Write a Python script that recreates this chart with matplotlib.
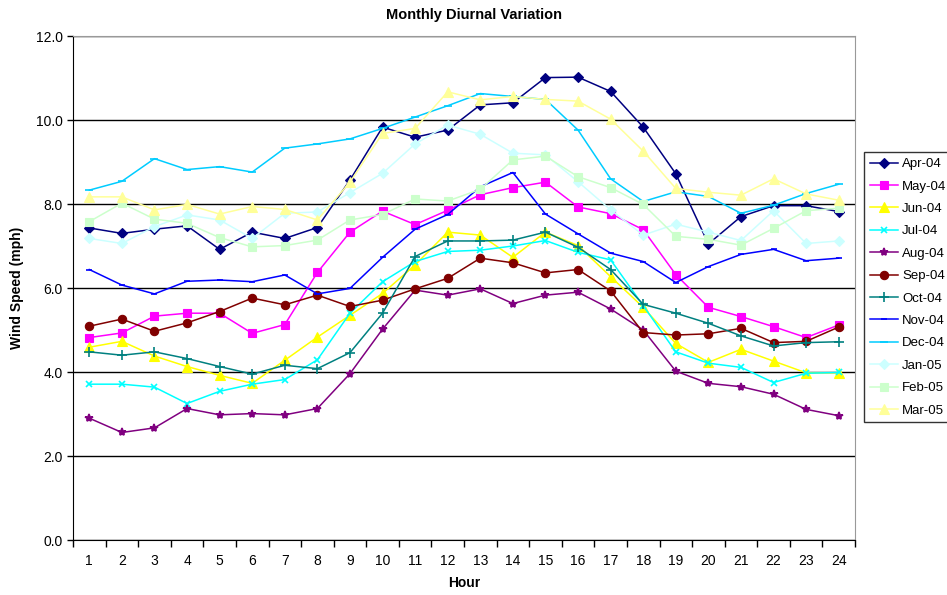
import numpy as np
import matplotlib
matplotlib.use("Agg")
import matplotlib.pyplot as plt

plt.rcParams["font.family"] = ["Liberation Sans", "DejaVu Sans"]

hours = list(range(1, 25))
months = ["Apr-04", "May-04", "Jun-04", "Jul-04", "Aug-04", "Sep-04",
          "Oct-04", "Nov-04", "Dec-04", "Jan-05", "Feb-05", "Mar-05"]

apr04 = [7.43, 7.30, 7.40, 7.48, 6.92, 7.33, 7.18, 7.44, 8.57, 9.83, 9.59, 9.76,
         10.36, 10.41, 11.01, 11.02, 10.68, 9.83, 8.72, 7.05, 7.70, 7.96, 7.96, 7.82]
may04 = [4.82, 4.93, 5.33, 5.40, 5.40, 4.92, 5.13, 6.37, 7.33, 7.83, 7.51, 7.85,
         8.22, 8.39, 8.52, 7.93, 7.77, 7.39, 6.32, 5.54, 5.32, 5.08, 4.82, 5.12]
jun04 = [4.59, 4.73, 4.38, 4.13, 3.92, 3.73, 4.28, 4.83, 5.35, 5.87, 6.55, 7.33,
         7.26, 6.73, 7.33, 7.01, 6.27, 5.54, 4.68, 4.23, 4.54, 4.26, 3.98, 3.98]
jul04 = [3.71, 3.71, 3.64, 3.25, 3.54, 3.71, 3.82, 4.29, 5.40, 6.15, 6.63, 6.87,
         6.90, 7.00, 7.13, 6.85, 6.67, 5.58, 4.48, 4.21, 4.11, 3.75, 3.97, 3.99]
aug04 = [2.90, 2.56, 2.67, 3.13, 2.98, 3.01, 2.98, 3.13, 3.96, 5.02, 5.95, 5.83,
         5.98, 5.63, 5.83, 5.90, 5.50, 5.00, 4.02, 3.73, 3.65, 3.47, 3.11, 2.96]
sep04 = [5.09, 5.26, 4.97, 5.17, 5.44, 5.76, 5.60, 5.83, 5.56, 5.71, 5.98, 6.23,
         6.71, 6.60, 6.36, 6.44, 5.93, 4.94, 4.88, 4.91, 5.04, 4.70, 4.73, 5.07]
oct04 = [4.48, 4.40, 4.48, 4.32, 4.13, 3.95, 4.16, 4.08, 4.46, 5.40, 6.75, 7.12,
         7.12, 7.14, 7.33, 6.97, 6.44, 5.61, 5.40, 5.16, 4.86, 4.62, 4.70, 4.72]
nov04 = [6.44, 6.07, 5.86, 6.16, 6.19, 6.15, 6.31, 5.86, 5.99, 6.73, 7.40, 7.75,
         8.41, 8.75, 7.76, 7.29, 6.83, 6.63, 6.13, 6.51, 6.80, 6.92, 6.65, 6.71]
dec04 = [8.33, 8.54, 9.08, 8.82, 8.89, 8.76, 9.33, 9.43, 9.55, 9.80, 10.07, 10.34,
         10.63, 10.56, 10.49, 9.76, 8.60, 8.06, 8.29, 8.18, 7.78, 7.97, 8.25, 8.47]
jan05 = [7.18, 7.06, 7.46, 7.74, 7.62, 7.18, 7.78, 7.81, 8.27, 8.73, 9.43, 9.88,
         9.66, 9.21, 9.17, 8.53, 7.86, 7.26, 7.52, 7.33, 7.13, 7.84, 7.06, 7.12]
feb05 = [7.58, 8.02, 7.64, 7.54, 7.20, 6.98, 7.01, 7.14, 7.62, 7.75, 8.12, 8.07,
         8.35, 9.05, 9.14, 8.65, 8.39, 7.99, 7.23, 7.16, 7.02, 7.42, 7.84, 7.90]
mar05 = [8.17, 8.17, 7.86, 7.99, 7.76, 7.94, 7.87, 7.62, 8.52, 9.68, 9.80, 10.67,
         10.48, 10.56, 10.49, 10.45, 10.02, 9.26, 8.37, 8.28, 8.21, 8.60, 8.24, 8.09]

series = [apr04, may04, jun04, jul04, aug04, sep04, oct04, nov04, dec04, jan05, feb05, mar05]
colors = ["#000080", "#FF00FF", "#FFFF00", "#00FFFF", "#800080", "#800000",
          "#008080", "#0000FF", "#00CCFF", "#CCFFFF", "#CCFFCC", "#FFFF99"]
markers = ["D", "s", "^", "x", "*", "o", "+", "_", "_", "D", "s", "^"]
msizes = [5, 6, 7, 5, 6, 6, 7, 5, 6, 5, 6, 7]

fig = plt.figure(figsize=(9.47, 5.95), dpi=100)
ax = fig.add_axes([73 / 947, 1 - 540 / 595, (855 - 73) / 947, (540 - 36) / 595])

for vals, lab, c, m, ms in zip(series, months, colors, markers, msizes):
    ax.plot(hours, vals, color=c, marker=m, ms=ms, lw=1.1, label=lab,
            markeredgewidth=1.2 if m in "x+_*" else 0.8, zorder=3)

ax.set_xlim(0.5, 24.5)
ax.set_ylim(0, 12)
ax.set_yticks(np.arange(0, 12.1, 2))
ax.set_yticklabels([f"{v:.1f}" for v in np.arange(0, 12.1, 2)], fontsize=10)
ax.set_xticks(hours)
ax.set_xticklabels([str(h) for h in hours], fontsize=10)
ax.set_xticks(np.arange(0.5, 24.6, 1), minor=True)
ax.tick_params(axis="x", which="major", length=0, pad=10)
ax.tick_params(axis="x", which="minor", length=5, direction="out", width=1)
ax.tick_params(axis="y", length=4, direction="out", width=1)
ax.grid(axis="y", color="black", lw=1, zorder=1)
for s in ["top", "right"]:
    ax.spines[s].set_color("#999999")
ax.spines["left"].set_color("black")
ax.spines["bottom"].set_color("black")

ax.set_xlabel("Hour", fontsize=10, fontweight="bold", labelpad=6)
ax.set_ylabel("Wind Speed (mph)", fontsize=10, fontweight="bold", labelpad=8)
fig.text(0.5, 1 - 15 / 595, "Monthly Diurnal Variation", ha="center", va="center",
         fontsize=10.5, fontweight="bold")

leg = fig.legend(loc="upper left", bbox_to_anchor=(864 / 947, 1 - 152 / 595),
                 borderaxespad=0, fontsize=9.5, frameon=True, fancybox=False,
                 edgecolor="black", handlelength=2.1, labelspacing=0.77,
                 borderpad=0.45, handletextpad=0.35)
leg.get_frame().set_linewidth(1)

fig.savefig("out.png", dpi=100)
